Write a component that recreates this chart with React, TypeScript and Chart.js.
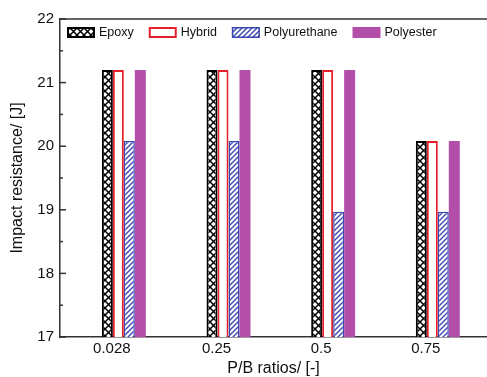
import React, { useEffect, useRef } from 'react';
import { Chart, registerables } from 'chart.js';

Chart.register(...registerables);

const categories = ['0.028', '0.25', '0.5', '0.75'];
const seriesNames = ['Epoxy', 'Hybrid', 'Polyurethane', 'Polyester'];
const epoxy = [21.2, 21.2, 21.2, 20.08];
const hybrid = [21.2, 21.2, 21.2, 20.08];
const polyurethane = [20.08, 20.08, 18.97, 18.97];
const polyester = [21.2, 21.2, 21.2, 20.08];
const yMin = 17;
const yMax = 22;

const FONT = "Arial, 'Liberation Sans', sans-serif";
const AXIS = '#333333';

function crossHatch(): CanvasPattern | string {
  const c = document.createElement('canvas');
  c.width = 7; c.height = 7;
  const g = c.getContext('2d');
  if (!g) return '#fff';
  g.fillStyle = '#ffffff';
  g.fillRect(0, 0, 7, 7);
  g.strokeStyle = '#000000';
  g.lineWidth = 1.5;
  g.beginPath();
  g.moveTo(-1, -1); g.lineTo(8, 8);
  g.moveTo(8, -1); g.lineTo(-1, 8);
  g.stroke();
  return g.createPattern(c, 'repeat') || '#fff';
}

function stripes(): CanvasPattern | string {
  const c = document.createElement('canvas');
  c.width = 5; c.height = 5;
  const g = c.getContext('2d');
  if (!g) return '#fff';
  g.fillStyle = '#ffffff';
  g.fillRect(0, 0, 5, 5);
  g.strokeStyle = '#3a48b0';
  g.lineWidth = 1.4;
  g.beginPath();
  g.moveTo(-1, 6); g.lineTo(6, -1);
  g.moveTo(-1, 1); g.lineTo(1, -1);
  g.moveTo(4, 6); g.lineTo(6, 4);
  g.stroke();
  return g.createPattern(c, 'repeat') || '#fff';
}

const framePlugin = {
  id: 'frameAndLegend',
  afterDraw(chart: any) {
    const ctx = chart.ctx as CanvasRenderingContext2D;
    const area = chart.chartArea;
    const ys = chart.scales.y;
    ctx.save();
    ctx.strokeStyle = AXIS;
    ctx.lineWidth = 1.5;
    ctx.beginPath();
    ctx.moveTo(area.left, area.top);
    ctx.lineTo(area.right, area.top);
    ctx.stroke();
    for (let v = yMin; v <= yMax + 1e-9; v += 0.5) {
      const py = ys.getPixelForValue(v);
      const major = Math.abs(v - Math.round(v)) < 1e-9;
      ctx.beginPath();
      ctx.moveTo(area.left, py);
      ctx.lineTo(area.left + (major ? 6 : 3), py);
      ctx.stroke();
    }
    ctx.font = '12.5px ' + FONT;
    ctx.textBaseline = 'middle';
    ctx.textAlign = 'left';
    let x = area.left + 7;
    const y = area.top + 8;
    const bw = 28;
    const bh = 11;
    chart.data.datasets.forEach((ds: any) => {
      ctx.fillStyle = ds.backgroundColor;
      ctx.fillRect(x, y, bw, bh);
      if (ds.borderWidth) {
        ctx.strokeStyle = ds.borderColor;
        ctx.lineWidth = ds.borderWidth;
        ctx.strokeRect(x + ds.borderWidth / 2, y + ds.borderWidth / 2, bw - ds.borderWidth, bh - ds.borderWidth);
      }
      ctx.fillStyle = '#111111';
      ctx.fillText(ds.label, x + bw + 4, y + bh / 2 + 0.5);
      x += bw + 4 + ctx.measureText(ds.label).width + 15;
    });
    ctx.restore();
  },
};

export default function App() {
  const ref = useRef<HTMLCanvasElement | null>(null);

  useEffect(() => {
    if (!ref.current) return;
    const toXY = (arr: number[]) => arr.map((v, i) => ({ x: i, y: v }));
    const common = { categoryPercentage: 0.42, barPercentage: 1.0, borderSkipped: 'bottom' as const };
    const chart = new Chart(ref.current, {
      type: 'bar',
      data: {
        datasets: [
          { label: seriesNames[0], data: toXY(epoxy), backgroundColor: crossHatch(), borderColor: '#000000', borderWidth: 2, ...common },
          { label: seriesNames[1], data: toXY(hybrid), backgroundColor: '#ffffff', borderColor: '#e6202a', borderWidth: 2, ...common },
          { label: seriesNames[2], data: toXY(polyurethane), backgroundColor: stripes(), borderColor: '#3a48b0', borderWidth: 1.5, ...common },
          { label: seriesNames[3], data: toXY(polyester), backgroundColor: '#b44fa9', borderWidth: 0, ...common },
        ] as any,
      },
      options: {
        animation: false,
        responsive: false,
        layout: { padding: { top: 19, right: 0, bottom: 0, left: 0 } },
        plugins: { legend: { display: false }, tooltip: { enabled: false } },
        scales: {
          x: {
            type: 'linear',
            min: -0.61,
            max: 3.47,
            offset: false,
            grid: { display: false, drawTicks: false },
            border: { display: true, color: AXIS, width: 1.5 },
            afterBuildTicks: (s: any) => { s.ticks = categories.map((_, i) => ({ value: i })); },
            afterFit: (s: any) => { s.height = 40; },
            ticks: {
              autoSkip: false,
              maxRotation: 0,
              padding: 3,
              labelOffset: -12,
              color: '#111111',
              font: { family: FONT, size: 15 },
              callback: (v: any) => categories[v as number] ?? '',
            },
            title: {
              display: true,
              text: 'P/B ratios/ [-]',
              color: '#111111',
              font: { family: FONT, size: 16, lineHeight: 1 },
              padding: { top: 0, bottom: 0 },
            },
          },
          y: {
            min: yMin,
            max: yMax,
            grid: { display: false, drawTicks: false },
            border: { display: true, color: AXIS, width: 1.5 },
            afterFit: (s: any) => { s.width = 60; },
            ticks: {
              stepSize: 1,
              padding: 6,
              color: '#111111',
              font: { family: FONT, size: 15 },
            },
            title: {
              display: true,
              text: 'Impact resistance/ [J]',
              color: '#111111',
              font: { family: FONT, size: 16, lineHeight: 1.2 },
              padding: { top: 8, bottom: 0 },
            },
          },
        },
      } as any,
      plugins: [framePlugin],
    });
    return () => chart.destroy();
  }, []);

  return (
    <div style={{ position: 'absolute', left: 0, top: 0, width: 487, height: 377, background: '#fff' }}>
      <canvas ref={ref} width={487} height={377} style={{ display: 'block' }} />
    </div>
  );
}
